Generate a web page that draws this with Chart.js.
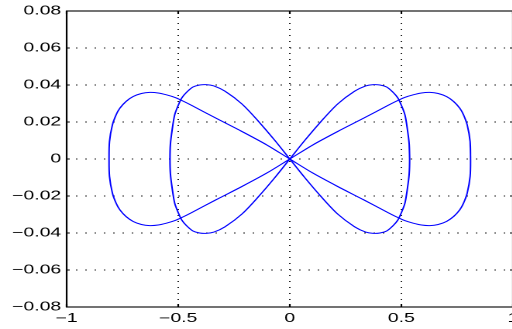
<!DOCTYPE html>
<html>
<head>
<meta charset="utf-8">
<script src="https://cdn.jsdelivr.net/npm/chart.js@4/dist/chart.umd.min.js"></script>
<style>
  html, body { margin: 0; padding: 0; background: #fff; overflow: hidden; }
</style>
</head>
<body>
<!-- the reference is stretched sideways, so the canvas is too (inline style keeps chart.js from resetting it) -->
<canvas id="plot" width="342" height="329" style="display:block;width:530px;height:329px"></canvas>
<script>
// axis ticks
const xTicks = [-1, -0.5, 0, 0.5, 1];
const xTickLabels = ['\u22121', '\u22120.5', '0', '0.5', '1'];
const yTicks = [-0.08, -0.06, -0.04, -0.02, 0, 0.02, 0.04, 0.06, 0.08];
const yTickLabels = ['\u22120.08', '\u22120.06', '\u22120.04', '\u22120.02', '0', '0.02', '0.04', '0.06', '0.08'];

// wide figure-eight
const curveAX = [
  0.810, 0.808, 0.795, 0.778, 0.762, 0.735, 0.703, 0.665, 0.628, 0.590, 0.553, 0.515, 0.478, 0.440, 0.330, 0.215, 0.103, 0,
  -0.103, -0.215, -0.330, -0.440, -0.478, -0.515, -0.553, -0.590, -0.628, -0.665, -0.703, -0.735, -0.762, -0.778, -0.795, -0.808, -0.810,
  -0.808, -0.795, -0.778, -0.762, -0.735, -0.703, -0.665, -0.628, -0.590, -0.553, -0.515, -0.478, -0.440, -0.330, -0.215, -0.103, 0,
  0.103, 0.215, 0.330, 0.440, 0.478, 0.515, 0.553, 0.590, 0.628, 0.665, 0.703, 0.735, 0.762, 0.778, 0.795, 0.808, 0.810, 0.808
];
const curveAY = [
  0, 0.0094, 0.0184, 0.0240, 0.0274, 0.0310, 0.0337, 0.0354, 0.0360, 0.0357, 0.0347, 0.0333, 0.0313, 0.0290, 0.0220, 0.0149, 0.0076, 0,
  -0.0076, -0.0149, -0.0220, -0.0290, -0.0313, -0.0333, -0.0347, -0.0357, -0.0360, -0.0354, -0.0337, -0.0310, -0.0274, -0.0240, -0.0184, -0.0094, 0,
  0.0094, 0.0184, 0.0240, 0.0274, 0.0310, 0.0337, 0.0354, 0.0360, 0.0357, 0.0347, 0.0333, 0.0313, 0.0290, 0.0220, 0.0149, 0.0076, 0,
  -0.0076, -0.0149, -0.0220, -0.0290, -0.0313, -0.0333, -0.0347, -0.0357, -0.0360, -0.0354, -0.0337, -0.0310, -0.0274, -0.0240, -0.0184, -0.0094, 0, 0.0094
];

// narrow figure-eight
const curveBX = [
  0.537, 0.535, 0.527, 0.516, 0.500, 0.484, 0.463, 0.434, 0.404, 0.375, 0.340, 0.290, 0.215, 0.140, 0.066, 0,
  -0.066, -0.140, -0.215, -0.290, -0.340, -0.375, -0.404, -0.434, -0.463, -0.484, -0.500, -0.516, -0.527, -0.535, -0.537,
  -0.535, -0.527, -0.516, -0.500, -0.484, -0.463, -0.434, -0.404, -0.375, -0.340, -0.290, -0.215, -0.140, -0.066, 0,
  0.066, 0.140, 0.215, 0.290, 0.340, 0.375, 0.404, 0.434, 0.463, 0.484, 0.500, 0.516, 0.527, 0.535, 0.537, 0.535
];
const curveBY = [
  0, 0.0080, 0.0160, 0.0238, 0.0290, 0.0330, 0.0360, 0.0389, 0.0400, 0.0402, 0.0395, 0.0366, 0.0298, 0.0203, 0.0099, 0,
  -0.0099, -0.0203, -0.0298, -0.0366, -0.0395, -0.0402, -0.0400, -0.0389, -0.0360, -0.0330, -0.0290, -0.0238, -0.0160, -0.0080, 0,
  0.0080, 0.0160, 0.0238, 0.0290, 0.0330, 0.0360, 0.0389, 0.0400, 0.0402, 0.0395, 0.0366, 0.0298, 0.0203, 0.0099, 0,
  -0.0099, -0.0203, -0.0298, -0.0366, -0.0395, -0.0402, -0.0400, -0.0389, -0.0360, -0.0330, -0.0290, -0.0238, -0.0160, -0.0080, 0, 0.0080
];

function toPoints(xs, ys) {
  return xs.map((x, i) => ({ x: x, y: ys[i] }));
}

// matlab style box with inward ticks
const boxPlugin = {
  id: 'box',
  afterDraw(chart) {
    const { ctx, chartArea: a, scales } = chart;
    ctx.save();
    ctx.strokeStyle = '#000';
    ctx.lineWidth = 1.1;
    ctx.beginPath();
    xTicks.forEach(v => {
      const px = scales.x.getPixelForValue(v);
      ctx.moveTo(px, a.bottom); ctx.lineTo(px, a.bottom - 3);
      ctx.moveTo(px, a.top); ctx.lineTo(px, a.top + 3);
    });
    yTicks.forEach(v => {
      const py = scales.y.getPixelForValue(v);
      ctx.moveTo(a.left, py); ctx.lineTo(a.left + 2, py);
      ctx.moveTo(a.right, py); ctx.lineTo(a.right - 2, py);
    });
    ctx.stroke();
    ctx.strokeRect(a.left, a.top, a.right - a.left, a.bottom - a.top);
    ctx.restore();
  }
};

const tickFont = { family: '"Liberation Sans", Arial, sans-serif', size: 12.5 };

new Chart(document.getElementById('plot'), {
  type: 'scatter',
  data: {
    datasets: [{
      data: toPoints(curveAX, curveAY),
      showLine: true,
      borderColor: '#0000ff',
      borderWidth: 1,
      pointRadius: 0,
      tension: 0.3
    }, {
      data: toPoints(curveBX, curveBY),
      showLine: true,
      borderColor: '#0000ff',
      borderWidth: 1,
      pointRadius: 0,
      tension: 0.3
    }]
  },
  options: {
    responsive: false,
    devicePixelRatio: 2,
    animation: false,
    layout: { padding: { left: 0, top: 11, right: 11, bottom: 0 } },
    plugins: { legend: { display: false }, tooltip: { enabled: false } },
    scales: {
      x: {
        type: 'linear',
        min: -1,
        max: 1,
        afterBuildTicks: s => { s.ticks = xTicks.map(v => ({ value: v })); },
        afterFit: s => { s.height = 22; },
        ticks: {
          autoSkip: false,
          maxRotation: 0,
          padding: 4,
          color: '#000',
          font: tickFont,
          callback: (v, i) => xTickLabels[i]
        },
        grid: { color: '#222', lineWidth: 1, drawTicks: false },
        border: { display: false, dash: [1, 5] }
      },
      y: {
        type: 'linear',
        min: -0.08,
        max: 0.08,
        afterBuildTicks: s => { s.ticks = yTicks.map(v => ({ value: v })); },
        afterFit: s => { s.width = 43; },
        ticks: {
          autoSkip: false,
          padding: 3.5,
          color: '#000',
          font: tickFont,
          callback: (v, i) => yTickLabels[i]
        },
        grid: { color: '#222', lineWidth: 1, drawTicks: false },
        border: { display: false, dash: [1, 5] }
      }
    }
  },
  plugins: [boxPlugin]
});
</script>
</body>
</html>
